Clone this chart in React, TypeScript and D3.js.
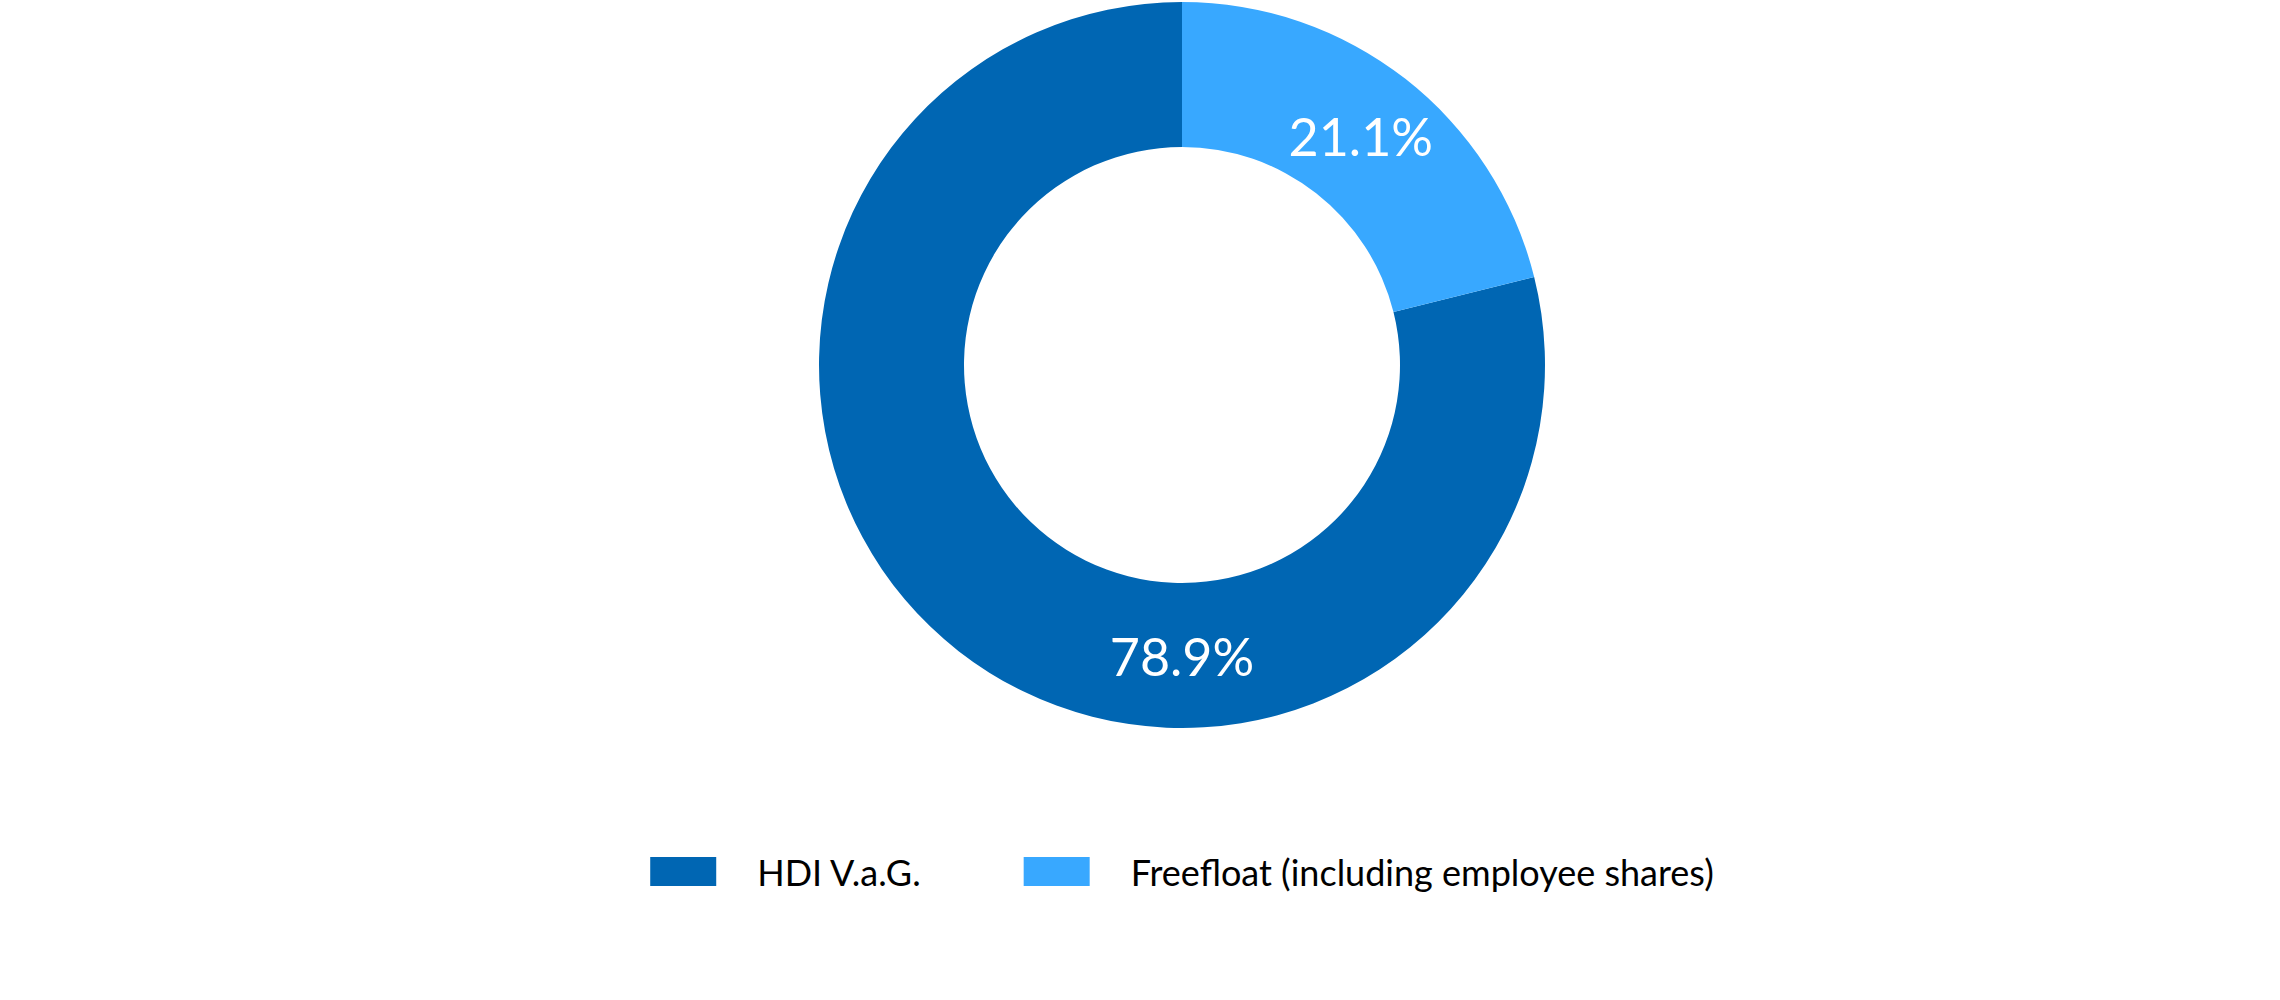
import React, { useEffect, useRef } from "react";
import * as d3 from "d3";

const categories = ["HDI V.a.G.", "Freefloat (including employee shares)"];
const shares = [78.9, 21.1];
const colors = ["#0066b3", "#38a8ff"];

const width = 2280;
const height = 1000;
const cx = 1182;
const cy = 365;
const outerR = 363;
const innerR = 218;
const font = "Lato, 'Open Sans', sans-serif";

function App() {
  const ref = useRef<SVGSVGElement>(null);

  useEffect(() => {
    const svg = d3.select(ref.current);
    svg.selectAll("*").remove();

    const data = categories.map((name, i) => ({ name, value: shares[i], color: colors[i] }));

    // counter-clockwise from 12 o'clock, so the small slice sits top right
    const pie = d3
      .pie<{ name: string; value: number; color: string }>()
      .value(d => d.value)
      .sort(null)
      .startAngle(0)
      .endAngle(-2 * Math.PI);

    const arc = d3
      .arc<d3.PieArcDatum<{ name: string; value: number; color: string }>>()
      .innerRadius(innerR)
      .outerRadius(outerR);

    const arcs = pie(data);
    const g = svg.append("g").attr("transform", `translate(${cx},${cy})`);

    g.selectAll("path")
      .data(arcs)
      .join("path")
      .attr("d", arc)
      .attr("fill", d => d.data.color);

    const maxValue = d3.max(shares)!;
    const midR = (innerR + outerR) / 2;

    g.selectAll("text")
      .data(arcs)
      .join("text")
      .attr("transform", d => {
        // the big slice gets its label at the bottom of the ring
        if (d.data.value === maxValue) return `translate(0,${midR})`;
        const [x, y] = arc.centroid(d);
        return `translate(${x},${y})`;
      })
      .attr("text-anchor", "middle")
      .attr("dominant-baseline", "central")
      .attr("fill", "#fff")
      .style("font-family", font)
      .style("font-size", "52px")
      .text(d => `${d.data.value.toFixed(1)}%`);

    // legend, centred under the donut
    const legend = svg.append("g");
    const boxW = 66;
    const boxH = 29;
    const textGap = 41;
    const itemGap = 103;
    let x = 0;
    data.forEach(d => {
      const item = legend.append("g").attr("transform", `translate(${x},0)`);
      item.append("rect").attr("width", boxW).attr("height", boxH).attr("fill", d.color);
      const t = item
        .append("text")
        .attr("x", boxW + textGap)
        .attr("y", boxH)
        .attr("fill", "#000")
        .style("font-family", font)
        .style("font-size", "36px")
        .text(d.name);
      const w = (t.node() as SVGTextElement).getComputedTextLength();
      x += boxW + textGap + w + itemGap;
    });
    const total = x - itemGap;
    legend.attr("transform", `translate(${cx - total / 2},857)`);
  }, []);

  return (
    <svg
      ref={ref}
      width={width}
      height={height}
      style={{ position: "absolute", left: 0, top: 0, background: "#fff" }}
    />
  );
}

export default App;
